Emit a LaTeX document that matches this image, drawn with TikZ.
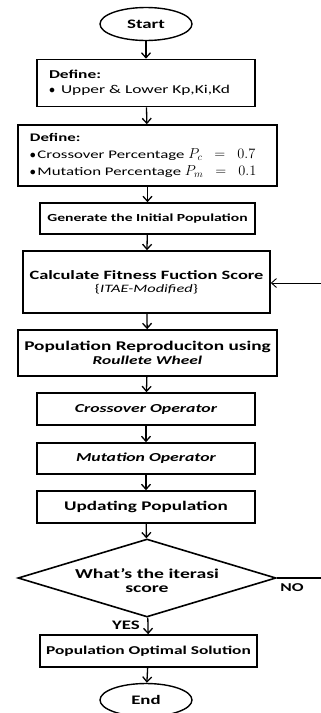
\documentclass[tikz,border=0pt]{standalone}
\usepackage{fontspec}
\setmainfont{Carlito}[FakeStretch=1.45]
\usetikzlibrary{arrows.meta,shapes.geometric}

\tikzset{
    box/.style={draw, line width=1.6pt, rectangle, inner sep=0pt, align=center},
    term/.style={draw, line width=1.4pt, ellipse, inner sep=0pt,
        minimum width=92pt, minimum height=33pt, font=\bfseries\fontsize{13}{15}\selectfont},
    flow/.style={line width=1.3pt, -{Straight Barb[length=5pt,width=9pt]}},
    feed/.style={line width=0.9pt, -{Straight Barb[length=5pt,width=9pt]}},
    tag/.style={font=\bfseries\fontsize{12}{14}\selectfont, inner sep=0pt},
}

\begin{document}
\begin{tikzpicture}[x=1pt, y=-1pt]

\useasboundingbox (0,0) rectangle (321,713);
\clip (0,0) rectangle (321,713);

% Terminals
\node[term] (start) at (146,24) {Start};
\node[term] (end) at (146,700) {End};

% Definitions
\node[box, minimum width=218pt, minimum height=47pt, text width=194pt, align=left,
      font=\fontsize{12}{15}\selectfont] (def1) at (146,83)
    {\textbf{Define:}\\ $\bullet$\, Upper \& Lower Kp,Ki,Kd};
\node[box, minimum width=259pt, minimum height=61pt, text width=235pt, align=left,
      font=\fontsize{11.6}{17}\selectfont] (def2) at (147.5,155.5)
    {\textbf{Define:}\\
     $\bullet$\hspace{1.5pt}Crossover Percentage {\fontsize{14}{15}\selectfont$P_c\;\;=\;\;0.7$}\\
     $\bullet$\hspace{1.5pt}Mutation Percentage {\fontsize{14}{15}\selectfont$P_m\;\;=\;\;0.1$}};

% Main loop
\node[box, minimum width=215pt, minimum height=31pt,
      font=\bfseries\fontsize{10.8}{13}\selectfont] (gen) at (147.5,218.5)
    {Generate the Initial Population};
\node[box, minimum width=247pt, minimum height=62pt,
      font=\fontsize{11.3}{13}\selectfont] (fit) at (146.5,282)
    {{\bfseries\fontsize{12.7}{14}\selectfont Calculate Fitness Fuction Score}\\
     \{\textit{ITAE-Modified}\}};
\node[box, minimum width=259pt, minimum height=46pt,
      font=\bfseries\fontsize{13.3}{14}\selectfont] (rep) at (147.5,353)
    {Population Reproduciton using\\ {\fontsize{12}{14}\selectfont\itshape Roullete Wheel}};
\node[box, minimum width=218pt, minimum height=32pt,
      font=\bfseries\itshape\fontsize{12.2}{14}\selectfont] (cross) at (146,409)
    {Crossover Operator};
\node[box, minimum width=218pt, minimum height=31pt,
      font=\bfseries\itshape\fontsize{12.2}{14}\selectfont] (mut) at (146,458.5)
    {Mutation Operator};
\node[box, minimum width=218pt, minimum height=32pt,
      font=\bfseries\fontsize{13.2}{15}\selectfont] (upd) at (146,507)
    {Updating Population};

% Decision
\node[draw, line width=1.6pt, diamond, shape aspect=3.3, inner sep=0pt,
      minimum width=258pt, minimum height=78pt, align=center,
      font=\bfseries\fontsize{13.6}{14}\selectfont] (dec) at (147,578)
    {\rule{0pt}{16pt}What's the iterasi\\ score};
\node[box, minimum width=217pt, minimum height=32pt,
      font=\bfseries\fontsize{12}{14}\selectfont] (opt) at (148.5,651)
    {Population Optimal Solution};

% Connectors
\foreach \a/\b in {start/def1, def1/def2, def2/gen, gen/fit, fit/rep,
                   rep/cross, cross/mut, mut/upd, upd/dec, dec/opt, opt/end}
    \draw[flow] (\a) -- (\b);

% Loop ends running off the right edge
\coordinate (back) at (321,283);
\coordinate (noend) at (321,578);
\draw[feed] (back) -- (fit.east |- back);
\draw[line width=1.3pt] (dec.east) -- (noend);
\node[tag] (no) at (292,588) {NO};
\node[tag, font=\bfseries\fontsize{13}{15}\selectfont] (yes) at (126,625) {YES};

\end{tikzpicture}
\end{document}
